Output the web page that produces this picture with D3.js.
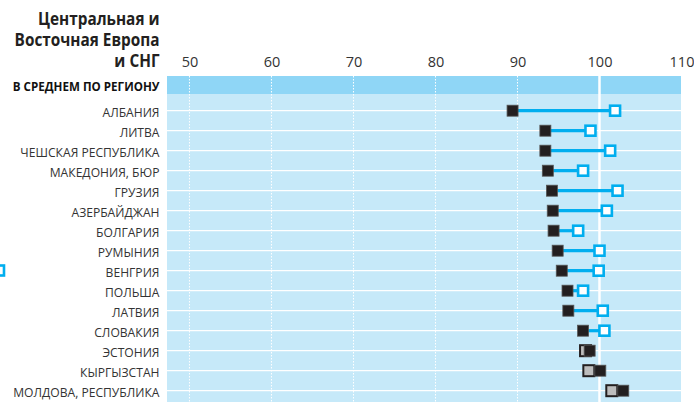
<!DOCTYPE html>
<html>
<head>
<meta charset="utf-8">
<script src="https://cdn.jsdelivr.net/npm/d3@7"></script>
<style>
  html, body { margin: 0; padding: 0; background: #fff; }
  svg { display: block; }
</style>
</head>
<body>
<svg id="chart" width="694" height="404"></svg>
<script>
// Country rows, top to bottom
const countries = [
  "АЛБАНИЯ", "ЛИТВА", "ЧЕШСКАЯ РЕСПУБЛИКА", "МАКЕДОНИЯ, БЮР", "ГРУЗИЯ",
  "АЗЕРБАЙДЖАН", "БОЛГАРИЯ", "РУМЫНИЯ", "ВЕНГРИЯ", "ПОЛЬША",
  "ЛАТВИЯ", "СЛОВАКИЯ", "ЭСТОНИЯ", "КЫРГЫЗСТАН", "МОЛДОВА, РЕСПУБЛИКА"
];
// First series (filled dark squares)
const seriesA = [89.4, 93.4, 93.4, 93.7, 94.2, 94.3, 94.4, 94.9, 95.4, 96.1, 96.2, 98.0, 98.8, 100.1, 102.9];
// Second series (hollow blue squares; grey when below the first series)
const seriesB = [101.9, 98.9, 101.3, 98.0, 102.2, 100.9, 97.4, 100.0, 99.9, 98.0, 100.4, 100.6, 98.3, 98.7, 101.5];
// Axis tick values
const tickValues = [50, 60, 70, 80, 90, 100, 110];
const dottedGrid = [50, 60, 70, 80, 90];
const referenceValue = 100;

const titleLines = ["Центральная и", "Восточная Европа", "и СНГ"];
const averageLabel = "В СРЕДНЕМ ПО РЕГИОНУ";

const svg = d3.select("#chart");

const plotLeft = 167, plotRight = 681;
const bandTop = 76, bandBottom = 94, plotBottom = 402;
const rowStart = 110.7, rowStep = 20;
const labelRight = 159.5;

const x = d3.scaleLinear().domain([47.2, 110]).range([166.5, 681.5]);
const y = d3.scalePoint().domain(countries)
  .range([rowStart, rowStart + rowStep * (countries.length - 1)]);

const FONT = "'Open Sans', sans-serif";

// Squeeze a group of right-aligned labels horizontally so the widest fits the column
function condense(sel, columnWidth) {
  let widest = 0;
  sel.each(function () { widest = Math.max(widest, this.getComputedTextLength()); });
  const k = Math.min(1, columnWidth / widest);
  sel.attr("transform", function () {
    const yy = +this.getAttribute("data-y");
    return `translate(${labelRight},${yy}) scale(${k},1)`;
  });
}

// Backgrounds
svg.append("rect").attr("x", plotLeft).attr("y", bandTop)
  .attr("width", plotRight - plotLeft).attr("height", bandBottom - bandTop)
  .attr("fill", "#8fd6f6");
svg.append("rect").attr("x", plotLeft).attr("y", bandBottom)
  .attr("width", plotRight - plotLeft).attr("height", plotBottom - bandBottom)
  .attr("fill", "#c6e9f9");

// Row lines through each country
svg.append("g").selectAll("line").data(countries).join("line")
  .attr("x1", plotLeft).attr("x2", plotRight)
  .attr("y1", d => y(d)).attr("y2", d => y(d))
  .attr("stroke", "#fff").attr("stroke-width", 1.3);

// Dotted vertical gridlines
svg.append("g").selectAll("line").data(dottedGrid).join("line")
  .attr("x1", d => x(d)).attr("x2", d => x(d))
  .attr("y1", bandTop).attr("y2", plotBottom)
  .attr("stroke", "#fff").attr("stroke-width", 1)
  .attr("stroke-dasharray", "1.5,1.5");

// Solid reference line at 100
svg.append("line")
  .attr("x1", x(referenceValue)).attr("x2", x(referenceValue))
  .attr("y1", bandTop).attr("y2", plotBottom)
  .attr("stroke", "#fff").attr("stroke-width", 2.5);

// Axis tick labels along the top
const axis = d3.axisTop(x).tickValues(tickValues).tickSize(0).tickPadding(0);
const axisG = svg.append("g").attr("transform", "translate(0,66.7)").call(axis);
axisG.select(".domain").remove();
axisG.selectAll("text")
  .attr("dy", 0)
  .attr("fill", "#333")
  .style("font-family", FONT)
  .style("font-size", "14.5px");

// Title
const title = svg.append("g").selectAll("text").data(titleLines).join("text")
  .attr("data-y", (d, i) => [25, 46, 66.7][i])
  .attr("text-anchor", "end")
  .attr("fill", "#231f20")
  .style("font-family", FONT)
  .style("font-weight", "bold")
  .style("font-size", "18.5px")
  .text(d => d);
condense(title, 145);

// Regional average label
const avg = svg.append("text")
  .attr("data-y", 90.5)
  .attr("text-anchor", "end")
  .attr("fill", "#111")
  .style("font-family", FONT)
  .style("font-weight", "bold")
  .style("font-size", "12.5px")
  .text(averageLabel);
condense(avg, 147);

// Country labels
const labels = svg.append("g").selectAll("text").data(countries).join("text")
  .attr("data-y", d => y(d) + 6)
  .attr("text-anchor", "end")
  .attr("fill", "#333")
  .style("font-family", FONT)
  .style("font-size", "13.5px")
  .text(d => d);
condense(labels, 146.5);

const rows = countries.map((c, i) => ({ c, a: seriesA[i], b: seriesB[i] }));
const size = 11, bSize = 10;

// Connecting lines (only where the second series lies above the first)
svg.append("g").selectAll("line").data(rows.filter(r => r.b > r.a)).join("line")
  .attr("x1", r => x(r.a)).attr("x2", r => x(r.b))
  .attr("y1", r => y(r.c)).attr("y2", r => y(r.c))
  .attr("stroke", "#00aeef").attr("stroke-width", 3.2);

// Grey squares for rows where the second series is below the first
svg.append("g").selectAll("rect").data(rows.filter(r => r.b <= r.a)).join("rect")
  .attr("x", r => x(r.b) - size / 2).attr("y", r => y(r.c) - size / 2)
  .attr("width", size).attr("height", size)
  .attr("fill", "#bdbdbd").attr("stroke", "#231f20").attr("stroke-width", 2);

// Dark squares
svg.append("g").selectAll("rect").data(rows).join("rect")
  .attr("x", r => x(r.a) - size / 2).attr("y", r => y(r.c) - size / 2)
  .attr("width", size).attr("height", size)
  .attr("fill", "#231f20").attr("stroke", "#555").attr("stroke-width", 0.8);

// Hollow blue squares
svg.append("g").selectAll("rect").data(rows.filter(r => r.b > r.a)).join("rect")
  .attr("x", r => x(r.b) - bSize / 2).attr("y", r => y(r.c) - bSize / 2)
  .attr("width", bSize).attr("height", bSize)
  .attr("fill", "#fff").attr("stroke", "#00aeef").attr("stroke-width", 2.6);

// Legend marker at the left edge
svg.append("rect")
  .attr("x", -6).attr("y", 265.5).attr("width", bSize).attr("height", bSize)
  .attr("fill", "#fff").attr("stroke", "#00aeef").attr("stroke-width", 2.6);
</script>
</body>
</html>
